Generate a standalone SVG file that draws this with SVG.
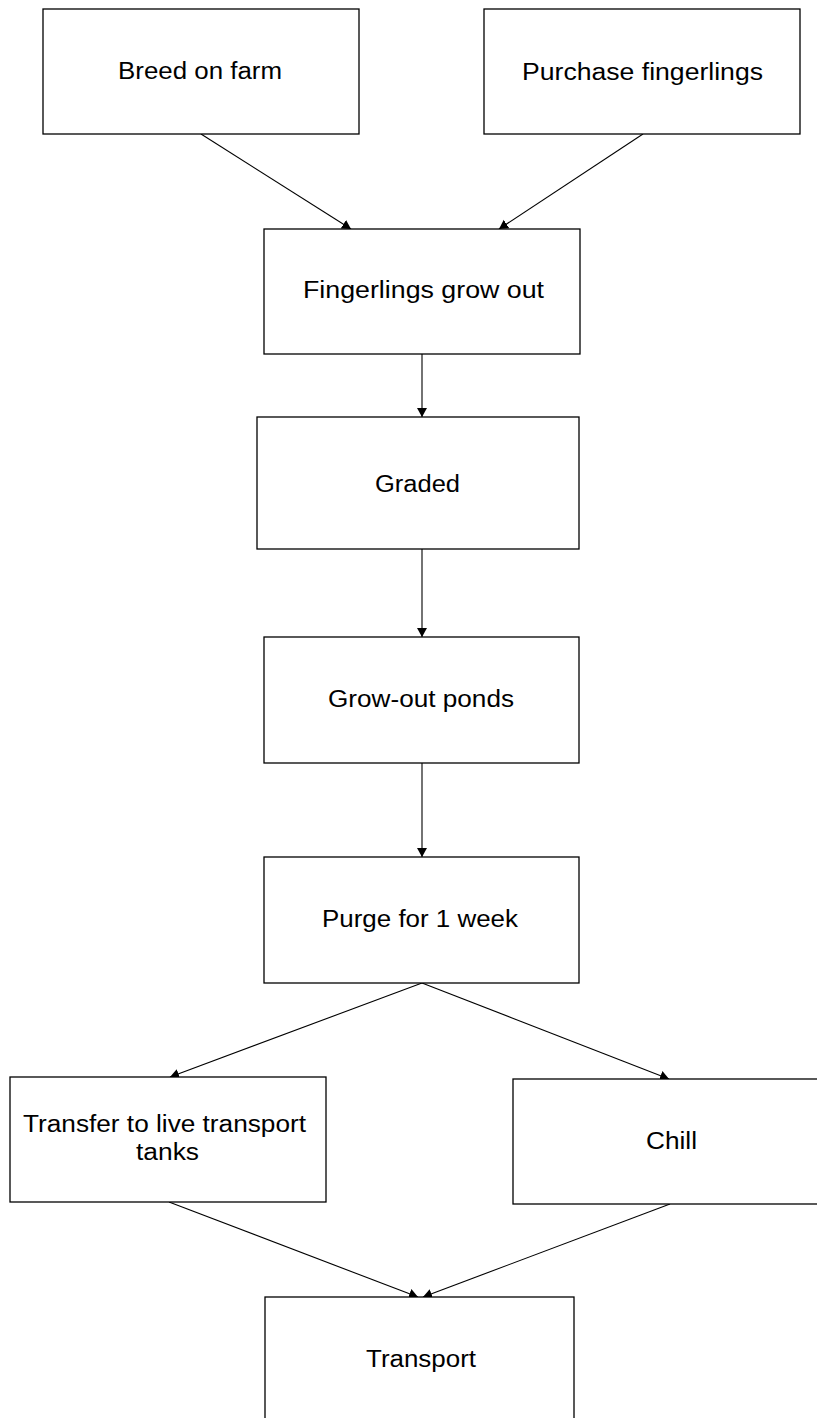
<svg xmlns="http://www.w3.org/2000/svg" width="817" height="1418" viewBox="0 0 817 1418">
<defs>
<style>
.box{fill:#fff;stroke:#000;stroke-width:1.3}
.lbl{font-family:"Liberation Sans",Arial,sans-serif;font-size:23px;fill:#000;text-anchor:middle}
.edge{stroke:#000;stroke-width:1.1;fill:none;marker-end:url(#arr)}
</style>
<marker id="arr" markerUnits="userSpaceOnUse" markerWidth="10" markerHeight="12" refX="9" refY="5" orient="auto" viewBox="0 0 10 10">
<path d="M0,0 L9,5 L0,10 z" fill="#000"/>
</marker>
</defs>
<rect width="817" height="1418" fill="#fff"/>
<g id="connectors">
<line class="edge" x1="201" y1="134" x2="351" y2="229"/>
<line class="edge" x1="643" y1="134" x2="499" y2="229"/>
<line class="edge" x1="422" y1="354" x2="422" y2="417"/>
<line class="edge" x1="422" y1="549" x2="422" y2="637"/>
<line class="edge" x1="422" y1="763" x2="422" y2="857"/>
<line class="edge" x1="422" y1="983" x2="170" y2="1077"/>
<line class="edge" x1="422" y1="983" x2="669" y2="1079"/>
<line class="edge" x1="169" y1="1202" x2="418" y2="1297"/>
<line class="edge" x1="670" y1="1204" x2="423" y2="1297"/>
</g>
<g id="n-breed">
<rect class="box" x="43" y="9" width="316" height="125"/>
<text class="lbl" x="200" y="79" textLength="164" lengthAdjust="spacingAndGlyphs">Breed on farm</text>
</g>
<g id="n-purchase">
<rect class="box" x="484" y="9" width="316" height="125"/>
<text class="lbl" x="642.5" y="80" textLength="241" lengthAdjust="spacingAndGlyphs">Purchase fingerlings</text>
</g>
<g id="n-growout-fing">
<rect class="box" x="264" y="229" width="316" height="125"/>
<text class="lbl" x="423.5" y="298" textLength="241" lengthAdjust="spacingAndGlyphs">Fingerlings grow out</text>
</g>
<g id="n-graded">
<rect class="box" x="257" y="417" width="322" height="132"/>
<text class="lbl" x="417.5" y="492" textLength="85" lengthAdjust="spacingAndGlyphs">Graded</text>
</g>
<g id="n-ponds">
<rect class="box" x="264" y="637" width="315" height="126"/>
<text class="lbl" x="421" y="707" textLength="186" lengthAdjust="spacingAndGlyphs">Grow-out ponds</text>
</g>
<g id="n-purge">
<rect class="box" x="264" y="857" width="315" height="126"/>
<text class="lbl" x="420" y="927" textLength="196" lengthAdjust="spacingAndGlyphs">Purge for 1 week</text>
</g>
<g id="n-transfer">
<rect class="box" x="10" y="1077" width="316" height="125"/>
<text class="lbl" x="164.5" y="1132" textLength="283" lengthAdjust="spacingAndGlyphs">Transfer to live transport</text>
<text class="lbl" x="167.5" y="1160" textLength="63" lengthAdjust="spacingAndGlyphs">tanks</text>
</g>
<g id="n-chill">
<rect class="box" x="513" y="1079" width="320" height="125"/>
<text class="lbl" x="671.5" y="1149" textLength="51" lengthAdjust="spacingAndGlyphs">Chill</text>
</g>
<g id="n-transport">
<rect class="box" x="265" y="1297" width="309" height="140"/>
<text class="lbl" x="421" y="1367" textLength="110" lengthAdjust="spacingAndGlyphs">Transport</text>
</g>
</svg>
